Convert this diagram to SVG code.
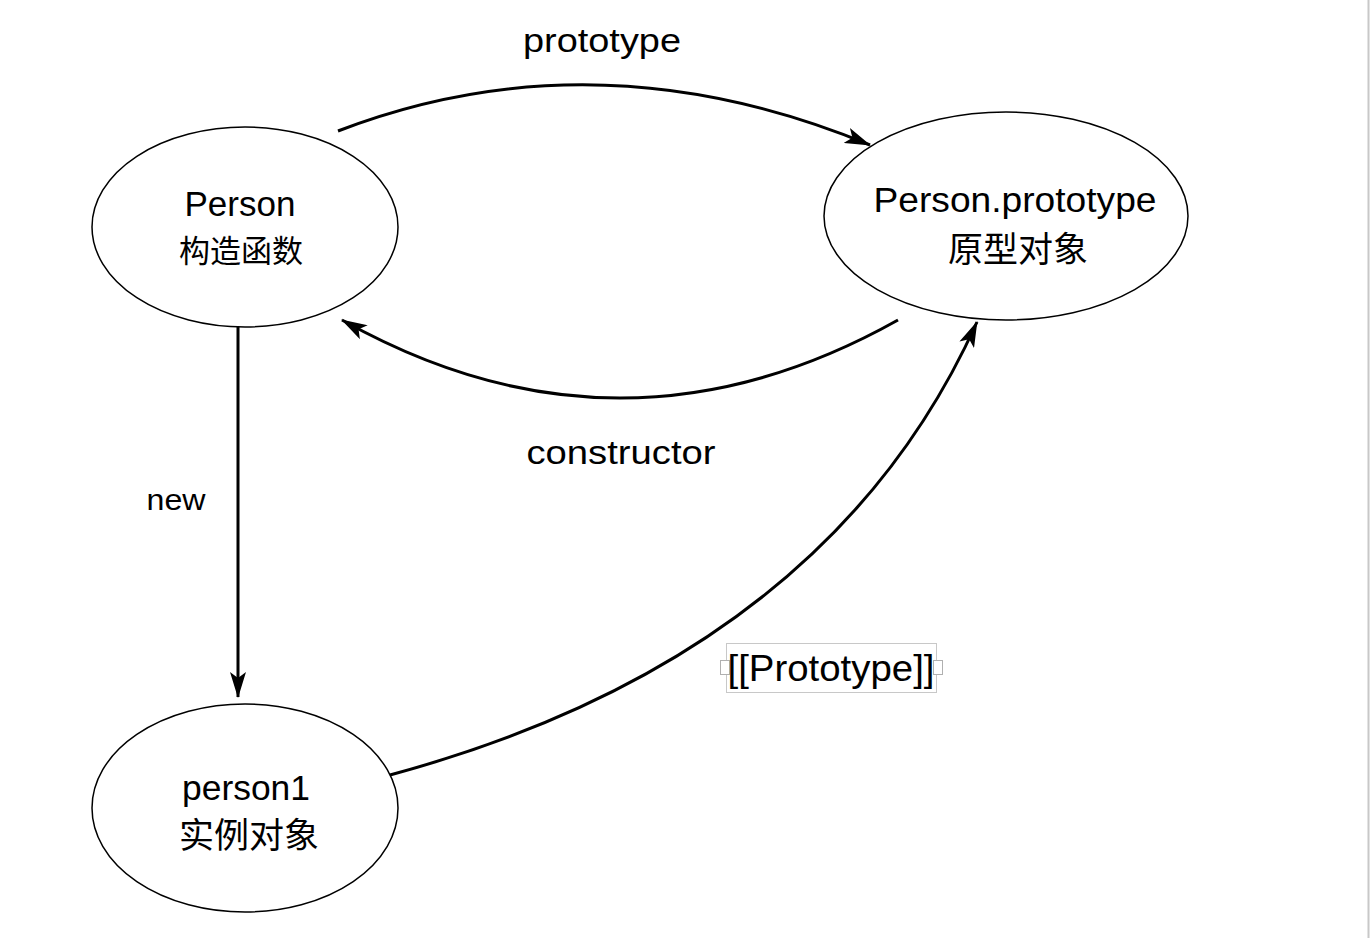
<svg xmlns="http://www.w3.org/2000/svg" width="1370" height="938" viewBox="0 0 1370 938">
<defs>
<style>
.node{fill:#fff;stroke:#000;stroke-width:1.5}
.edge{fill:none;stroke:#000;stroke-width:3}
.t{font-family:"Liberation Sans","Noto Sans CJK SC",sans-serif;fill:#000;text-anchor:middle}
.cjk{font-family:"Noto Sans CJK SC","Liberation Sans",sans-serif;fill:#000;text-anchor:middle}
</style>
<marker id="ah" viewBox="0 0 26 16" refX="25" refY="8" markerWidth="26" markerHeight="16" markerUnits="userSpaceOnUse" orient="auto">
<path d="M0,0 L26,8 L0,16 L6,8 Z" fill="#000"/>
</marker>
</defs>
<rect width="1370" height="938" fill="#fff"/>
<line x1="1368.5" y1="0" x2="1368.5" y2="938" stroke="#c8c8c8" stroke-width="2"/>
<g id="connectors">
<path class="edge" d="M338,131 Q596,32 870,145" marker-end="url(#ah)"/>
<path class="edge" d="M898,320 Q620,476 342,320" marker-end="url(#ah)"/>
<path class="edge" d="M238,327 L238,697" marker-end="url(#ah)"/>
<path class="edge" d="M390,775 Q826,657 977,322" marker-end="url(#ah)"/>
</g>
<g id="node-person">
<ellipse class="node" cx="245" cy="227" rx="153" ry="100"/>
<text class="t" x="240" y="216" font-size="35" textLength="111" lengthAdjust="spacingAndGlyphs">Person</text>
<text class="cjk" x="241" y="262" font-size="31">构造函数</text>
</g>
<g id="node-prototype">
<ellipse class="node" cx="1006" cy="216" rx="182" ry="104"/>
<text class="t" x="1015" y="212" font-size="35" textLength="283" lengthAdjust="spacingAndGlyphs">Person.prototype</text>
<text class="cjk" x="1018" y="262" font-size="35">原型对象</text>
</g>
<g id="node-person1">
<ellipse class="node" cx="245" cy="808" rx="153" ry="104"/>
<text class="t" x="246" y="800" font-size="35" textLength="128" lengthAdjust="spacingAndGlyphs">person1</text>
<text class="cjk" x="249" y="848" font-size="35">实例对象</text>
</g>
<g id="labels">
<text class="t" x="602" y="52" font-size="34" textLength="158" lengthAdjust="spacingAndGlyphs">prototype</text>
<text class="t" x="621" y="464" font-size="34" textLength="189" lengthAdjust="spacingAndGlyphs">constructor</text>
<text class="t" x="176" y="510" font-size="30" textLength="59" lengthAdjust="spacingAndGlyphs">new</text>
<g id="label-proto">
<rect x="726.5" y="643.5" width="210" height="49" fill="#fff" stroke="#c8c8c8" stroke-width="1"/>
<rect x="720.5" y="660.5" width="9" height="14" fill="#fff" stroke="#b0b0b0" stroke-width="1"/>
<rect x="933.5" y="660.5" width="9" height="14" fill="#fff" stroke="#b0b0b0" stroke-width="1"/>
<text class="t" x="831" y="681" font-size="36" textLength="207" lengthAdjust="spacingAndGlyphs">[[Prototype]]</text>
</g>
</g>
</svg>
